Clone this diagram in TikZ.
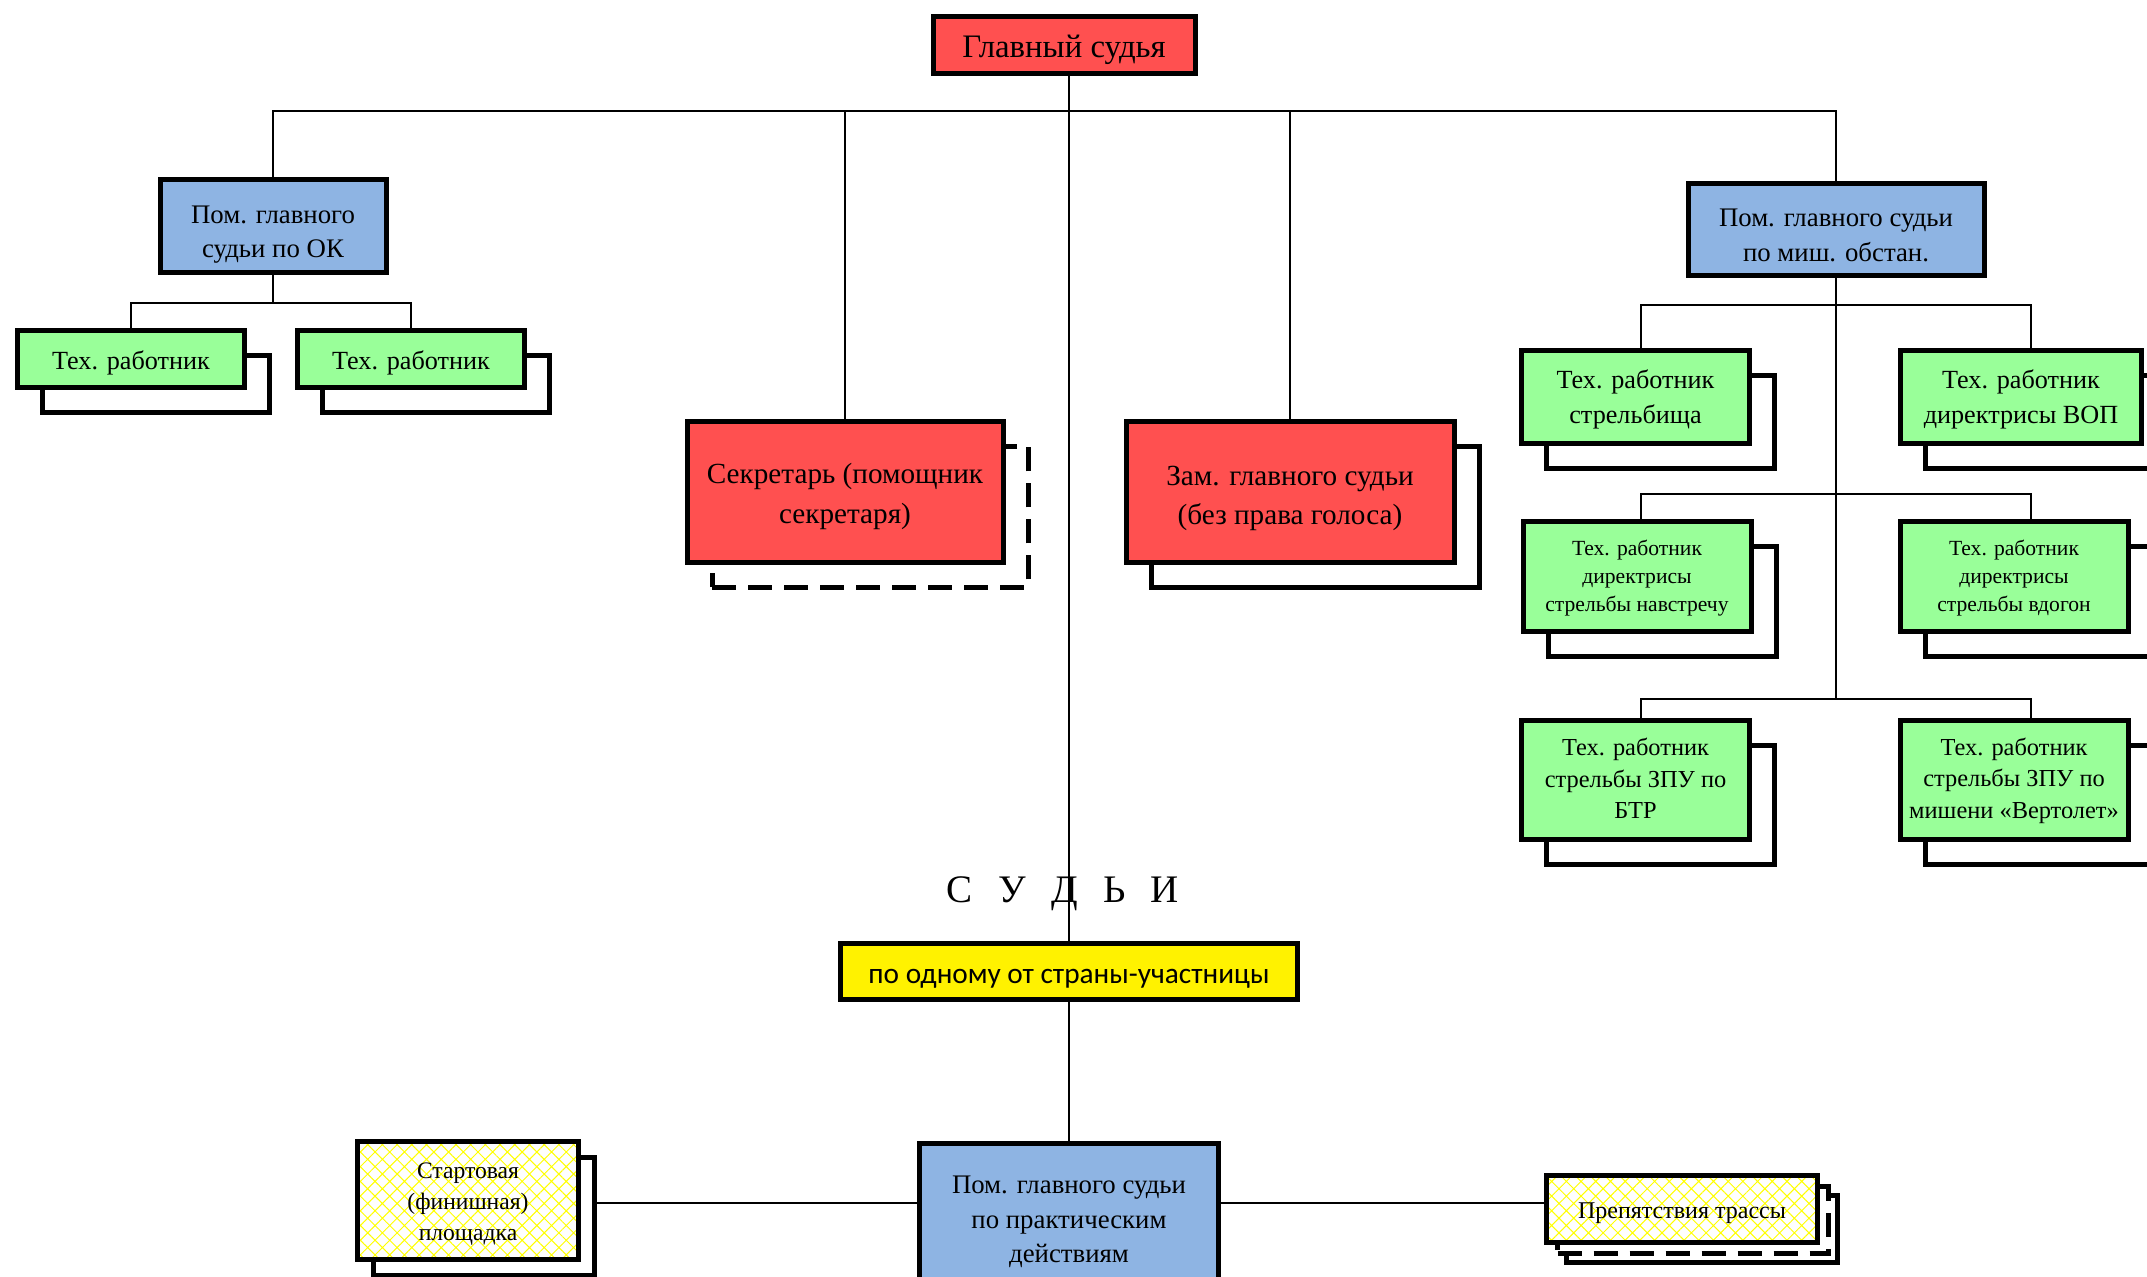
\documentclass[tikz,border=0pt]{standalone}
\usepackage{fontspec}
\setmainfont{Liberation Serif}
\newfontfamily\carlito{Carlito}
\newfontfamily\spacedFont[WordSpace=2.6]{Liberation Serif}
\usetikzlibrary{shadows,patterns.meta,backgrounds}

\definecolor{judgeRed}{RGB}{255,80,80}
\definecolor{judgeBlue}{RGB}{142,180,227}
\definecolor{judgeGreen}{RGB}{153,255,153}

% struts for the first and last line of a box text
\newcommand{\tStrut}[1][1em]{\rule{0pt}{#1}}
\newcommand{\bStrut}{\rule[-0.2em]{0pt}{0pt}}

\begin{document}
\begin{tikzpicture}[x=0.5pt, y=-0.5pt,
            box/.style={rectangle, draw, line width=2.5pt, align=center, inner sep=2pt,
                execute at begin node={\tStrut}, execute at end node={\bStrut}},
            boxRed/.style={box, fill=judgeRed},
            boxBlue/.style={box, fill=judgeBlue},
            boxGreen/.style={box, fill=judgeGreen},
            boxYellow/.style={box, fill=yellow},
            boxHatch/.style={box, preaction={fill=white}, pattern={Hatch[angle=45,distance=5.2pt,line width=0.5pt]}, pattern color=yellow},
            shadowSolid/.style={general shadow={shadow xshift=#1, shadow yshift=-#1, fill=white, draw=black, line width=2.5pt}},
            shadowSolid/.default=12.5pt,
            shadowDashed/.style={general shadow={shadow xshift=#1, shadow yshift=-#1, fill=white, draw=black, line width=2.5pt, dash pattern=on 12pt off 6pt}},
            shadowDashed/.default=12.5pt,
            textBig/.style={font=\fontsize{16.4}{19}\selectfont},
            textMid/.style={font=\fontsize{13.4}{17.4}\selectfont},
            textSmall/.style={font=\fontsize{10.8}{14}\selectfont},
            link/.style={line width=0.9pt}]

            \path[use as bounding box, clip] (0,0) rectangle (2147,1277);

            \node[boxRed, textBig, minimum width=131pt, minimum height=28.5pt] (title) at (1064,45) {Главный судья};

            % left branch
            \node[boxBlue, textMid, minimum width=113pt, minimum height=46.5pt] (okBlue) at (273,226) {\tStrut[1.3em]Пом. главного\\судьи по ОК\bStrut};
            \node[shadowSolid, boxGreen, font=\fontsize{13.1}{16}\selectfont, minimum width=113.5pt, minimum height=28.5pt] (techL1) at (131,359) {Тех. работник};
            \node[shadowSolid, boxGreen, font=\fontsize{13.1}{16}\selectfont, minimum width=113.5pt, minimum height=28.5pt] (techL2) at (411,359) {Тех. работник};

            \node[shadowDashed, boxRed, font=\fontsize{14.6}{19.8}\selectfont, minimum width=158pt, minimum height=70.5pt] (secr) at (845,492) {\tStrut Секретарь (помощник\\секретаря)\bStrut};
            \node[shadowSolid, boxRed, font=\fontsize{14.6}{19.8}\selectfont, minimum width=164pt, minimum height=70.5pt] (zam) at (1290,492) {\tStrut[1.1em]Зам. главного судьи\\(без права голоса)\bStrut};

            % right branch
            \node[boxBlue, textMid, minimum width=148pt, minimum height=46pt] (mishBlue) at (1836,229.5) {\tStrut[1.3em]Пом. главного судьи\\по миш. обстан.\bStrut};
            \node[shadowSolid, boxGreen, font=\fontsize{13.1}{17.3}\selectfont, minimum width=114pt, minimum height=46.5pt] (techA1) at (1635.5,397) {\tStrut[0.92em]Тех. работник\\стрельбища\bStrut};
            \node[shadowSolid, boxGreen, font=\fontsize{13.1}{17.3}\selectfont, minimum width=120.5pt, minimum height=46.5pt] (techA2) at (2021,397) {\tStrut[0.92em]Тех. работник\\директрисы ВОП\bStrut};
            \node[shadowSolid, boxGreen, textSmall, minimum width=114pt, minimum height=55pt] (techB1) at (1637,576.5) {\tStrut[0.85em]Тех. работник\\директрисы\\стрельбы навстречу\bStrut};
            \node[shadowSolid, boxGreen, textSmall, minimum width=114pt, minimum height=55pt] (techB2) at (2014,576.5) {\tStrut[0.85em]Тех. работник\\директрисы\\стрельбы вдогон\bStrut};
            \node[shadowSolid, boxGreen, font=\fontsize{12.2}{15.8}\selectfont, minimum width=114pt, minimum height=59.5pt] (techC1) at (1635.5,780) {\tStrut[0.78em]Тех. работник\\стрельбы ЗПУ по\\БТР\bStrut};
            \node[shadowSolid, boxGreen, font=\fontsize{12.2}{15.8}\selectfont, minimum width=114pt, minimum height=59.5pt] (techC2) at (2014,780) {\tStrut[0.78em]Тех. работник\\стрельбы ЗПУ по\\мишени «Вертолет»\bStrut};

            % judges
            \node[anchor=base, font=\spacedFont\fontsize{19.5}{22}\selectfont] (judges) at (1063,902) {С У Д Ь И};
            \node[boxYellow, font=\carlito\fontsize{14.65}{18}\selectfont, minimum width=228.5pt, minimum height=28pt] (country) at (1069,971.5) {по одному от страны-участницы};
            \node[boxBlue, textMid, minimum width=149.5pt, minimum height=72.5pt] (pract) at (1069,1216) {\tStrut[1.1em]Пом. главного судьи\\по практическим\\действиям\bStrut};
            \node[shadowSolid=8pt, boxHatch, font=\fontsize{11.8}{15.5}\selectfont, minimum width=110.5pt, minimum height=59pt] (start) at (468,1200.5) {\tStrut Стартовая\\(финишная)\\площадка\bStrut};
            \node[shadowSolid=10pt, shadowDashed=5.5pt, boxHatch, font=\fontsize{12}{14}\selectfont, minimum width=135.5pt, minimum height=33.5pt] (obst) at (1682,1209) {Препятствия трассы};

            \begin{scope}[on background layer]
            \coordinate (busMain) at (0,111);
            \coordinate (busOK) at (0,303);
            \coordinate (busA) at (0,305);
            \coordinate (busB) at (0,494);
            \coordinate (busC) at (0,699);
            \coordinate (dropL) at (1641,0);
            \coordinate (dropR) at (2031,0);
            \coordinate (lvl) at (0,1203);

            \draw[link] (okBlue.north) -- (okBlue.north |- busMain) -- (mishBlue.north |- busMain) -- (mishBlue.north);
            \draw[link] (secr.north) -- (secr.north |- busMain);
            \draw[link] (zam.north) -- (zam.north |- busMain);
            \draw[link] (country.north |- title.south) -- (country.north);
            \draw[link] (country.south) -- (pract.north);

            \draw[link] (okBlue.south) -- (okBlue.south |- busOK);
            \draw[link] (techL1.north) -- (techL1.north |- busOK) -- (techL2.north |- busOK) -- (techL2.north);

            \draw[link] (mishBlue.south) -- (mishBlue.south |- busC);
            \draw[link] (dropL |- techA1.north) -- (dropL |- busA) -- (dropR |- busA) -- (dropR |- techA2.north);
            \draw[link] (dropL |- techB1.north) -- (dropL |- busB) -- (dropR |- busB) -- (dropR |- techB2.north);
            \draw[link] (dropL |- techC1.north) -- (dropL |- busC) -- (dropR |- busC) -- (dropR |- techC2.north);

            \draw[link] (start.east |- lvl) -- (pract.west |- lvl);
            \draw[link] (pract.east |- lvl) -- (obst.west |- lvl);
            \end{scope}

        \end{tikzpicture}
\end{document}
